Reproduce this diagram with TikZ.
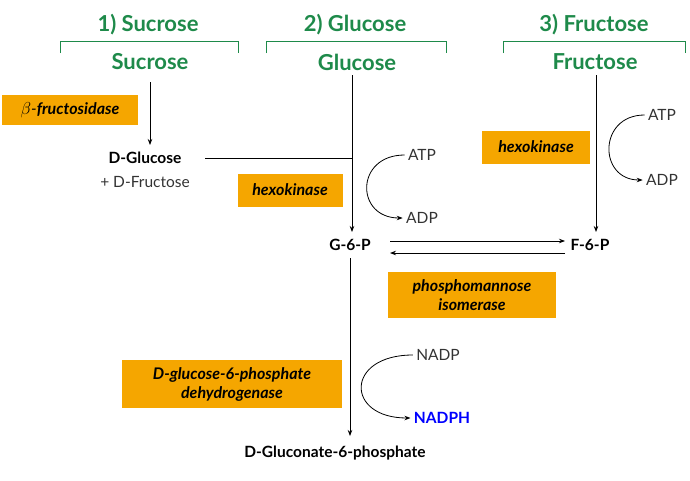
\documentclass[tikz,border=0pt]{standalone}
\usepackage{fontspec}
\setmainfont{Lato}
\usetikzlibrary{arrows.meta}
\definecolor{grn}{HTML}{1E8A4A}
\definecolor{org}{HTML}{F5A600}
\begin{document}
\begin{tikzpicture}[x=1pt,y=-1pt,
 title/.style={text=grn,font=\fontsize{22}{26}\selectfont\bfseries},
 enz/.style={fill=org,font=\fontsize{16}{19}\selectfont\itshape,align=center,inner sep=2pt},
 met/.style={font=\fontsize{15.5}{18}\selectfont\bfseries},
 co/.style={font=\fontsize{15.5}{18}\selectfont,text=black!80},
 arr/.style={-{Stealth[length=6pt]},thick},
 brk/.style={grn,thick}]
\useasboundingbox (0,0) rectangle (690,480);
\node[title] (t1) at (148,25) {1) Sucrose};
\node[title] (t2) at (355,25) {2) Glucose};
\node[title] (t3) at (594,25) {3) Fructose};
\draw[brk] (60,53)--(60,41)--(238,41)--(238,53);
\draw[brk] (266,53)--(266,41)--(446,41)--(446,53);
\draw[brk] (503,53)--(503,41)--(685,41)--(685,53);
\node[title] (s) at (150,62) {Sucrose};
\node[title] (g) at (357,62) {Glucose};
\node[title] (f) at (595,62) {Fructose};
\node[enz,minimum width=136pt,minimum height=30pt] (bf) at (70,110) {$\beta$-\textbf{\itshape fructosidase}};
\node[met] (dg) at (145,158) {D-Glucose};
\node[co] (df) at (145,182) {+ D-Fructose};
\draw[arr] (150,82) -- (150,145);
\node[met] (g6p) at (350,245) {G-6-P};
\node[met] (f6p) at (590,245) {F-6-P};
\draw[arr] (352,75) -- (352,232);
\draw[thick] (205,158) -- (352,158);
\draw[arr] (596,75) -- (596,232);
\node[co] (atp1) at (422,155) {ATP};
\node[co] (adp1) at (422,218) {ADP};
\draw[arr] (atp1.west) .. controls (355,155) and (355,218) .. (adp1.west);
\node[enz,minimum width=105pt,minimum height=33pt] (hk1) at (290,190) {\bfseries\itshape hexokinase};
\node[co] (atp2) at (662,115) {ATP};
\node[co] (adp2) at (662,180) {ADP};
\draw[arr] (atp2.west) .. controls (598,115) and (598,180) .. (adp2.west);
\node[enz,minimum width=108pt,minimum height=33pt] (hk2) at (536,147) {\bfseries\itshape hexokinase};
\draw[arr] (390,241) -- (565,241);
\draw[arr] (565,253) -- (390,253);
\node[enz,minimum width=168pt,minimum height=46pt] (pmi) at (472,295) {\bfseries\itshape phosphomannose\\\bfseries\itshape isomerase};
\node[met] (dgp) at (335,453) {D-Gluconate-6-phosphate};
\draw[arr] (350,258) -- (350,436);
\node[co] (nadp) at (438,355) {NADP};
\node[met,text=blue] (nadph) at (442,418) {NADPH};
\draw[arr] (nadp.west) .. controls (345,355) and (345,418) .. (nadph.west);
\node[enz,minimum width=220pt,minimum height=48pt] (g6pd) at (232,384) {\bfseries\itshape D-glucose-6-phosphate\\\bfseries\itshape dehydrogenase};
\end{tikzpicture}
\end{document}
